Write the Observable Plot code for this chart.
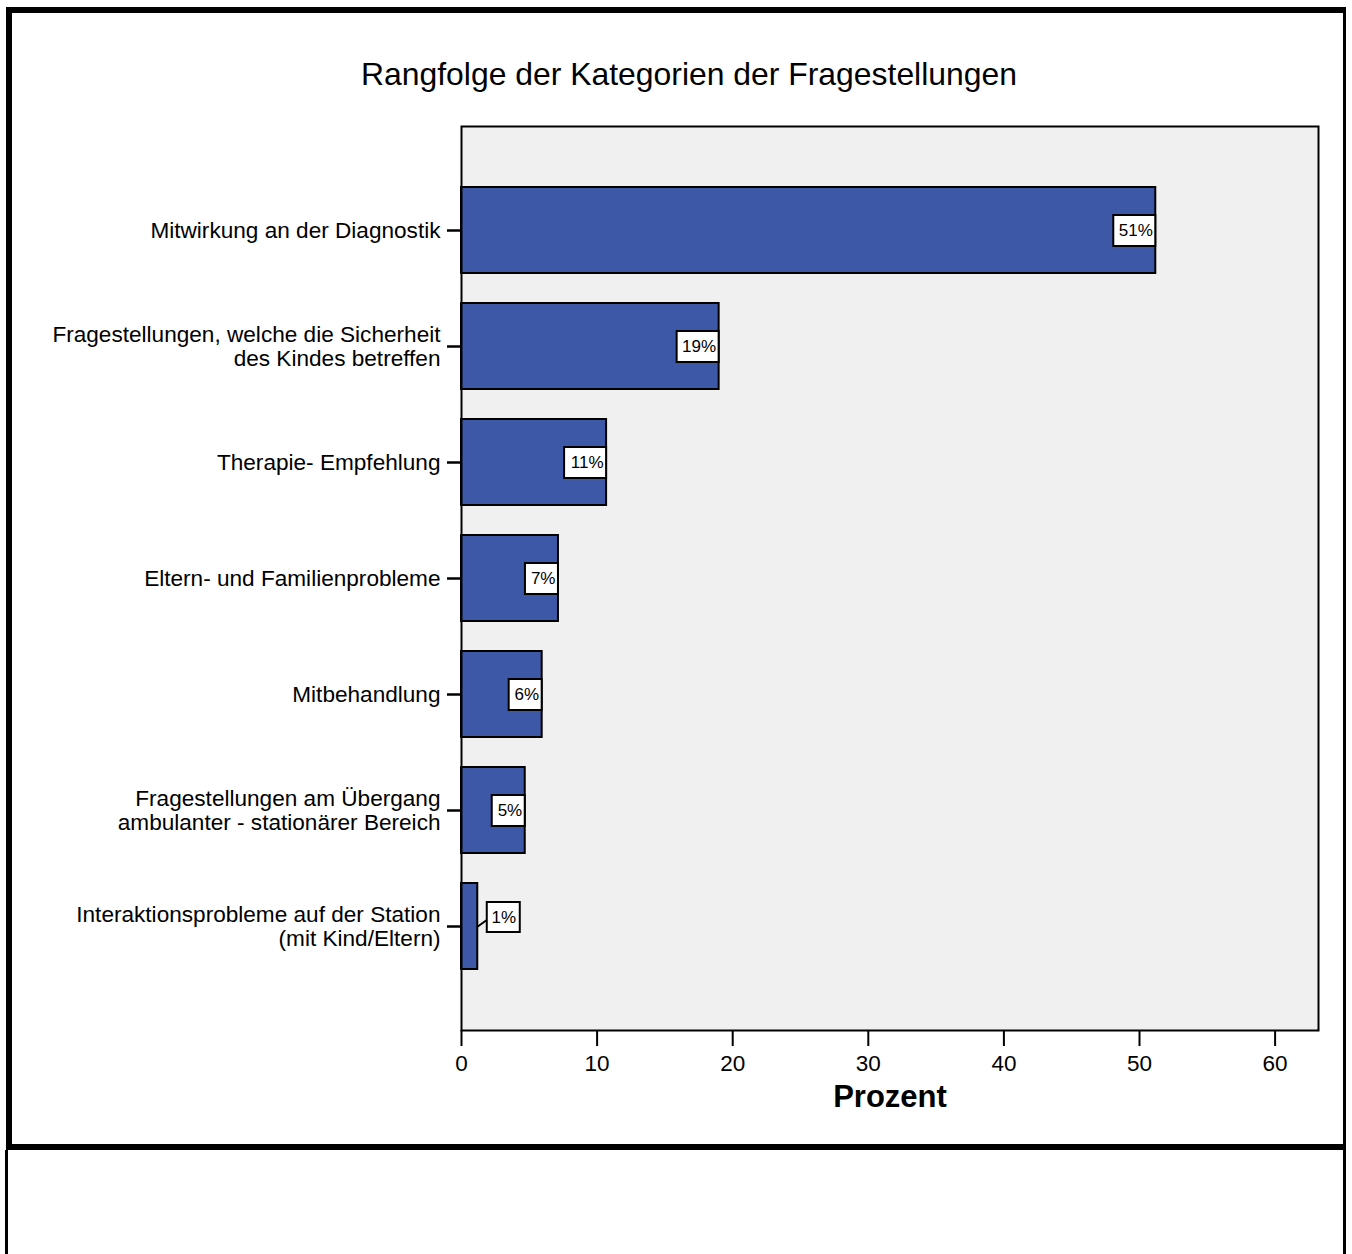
<!DOCTYPE html>
<html>
<head>
<meta charset="utf-8">
<script src="https://cdn.jsdelivr.net/npm/d3@7"></script>
<script src="https://cdn.jsdelivr.net/npm/@observablehq/plot@0.6"></script>
<style>
  html, body { margin: 0; padding: 0; background: #fff; }
  #page { position: relative; width: 1352px; height: 1254px; overflow: hidden; font-family: "Liberation Sans", Arial, sans-serif; }
  #chart { position: absolute; left: 0; top: 0; }
  .bd { position: absolute; background: #000; }
  #title { position: absolute; left: 0; width: 1378px; top: 54px; text-align: center; font-size: 31.9px; line-height: 40px; color: #000; }
</style>
</head>
<body>
<div id="page">
  <div id="chart"></div>
  <div id="title">Rangfolge der Kategorien der Fragestellungen</div>
  <div class="bd" style="left:6px;top:7px;width:1340px;height:6px"></div>
  <div class="bd" style="left:6px;top:7px;width:6px;height:1143px"></div>
  <div class="bd" style="left:1343px;top:7px;width:3px;height:1247px"></div>
  <div class="bd" style="left:6px;top:1144px;width:1340px;height:6px"></div>
  <div class="bd" style="left:5px;top:1150px;width:3px;height:104px"></div>
</div>
<script>
const categories = [
  "Mitwirkung an der Diagnostik",
  "Fragestellungen, welche die Sicherheit\ndes Kindes betreffen",
  "Therapie- Empfehlung",
  "Eltern- und Familienprobleme",
  "Mitbehandlung",
  "Fragestellungen am Übergang\nambulanter - stationärer Bereich",
  "Interaktionsprobleme auf der Station\n(mit Kind/Eltern)"
];
const values = [51.2, 19.0, 10.7, 7.15, 5.95, 4.7, 1.2];
const valueLabels = ["51%", "19%", "11%", "7%", "6%", "5%", "1%"];
const xTicks = [0, 10, 20, 30, 40, 50, 60];
const xMax = 63.2;

const W = 1352, H = 1150, mL = 461, mR = 34, mT = 126, mB = 120;
const k = (W - mL - mR) / xMax; // px per unit

const data = categories.map((c, i) => ({cat: c, value: values[i], label: valueLabels[i]}));
data.forEach(d => {
  d.boxW = d.label.length > 2 ? 42 : 33;
  d.outside = d.value * k < d.boxW;
});
const inside = data.filter(d => !d.outside);
const outside = data.filter(d => d.outside);
const gap = 9.5;

const leaderShape = {
  draw(context, l) { context.moveTo(0, 0); context.lineTo(0, -l); }
};

const chart = Plot.plot({
  width: W, height: H,
  marginLeft: mL, marginRight: mR, marginTop: mT, marginBottom: mB,
  style: {fontFamily: "'Liberation Sans', Arial, sans-serif", color: "black", background: "transparent"},
  x: {domain: [0, xMax]},
  y: {domain: categories, paddingInner: 0.26, paddingOuter: 0.52},
  marks: [
    Plot.frame({fill: "#f0f0f0", stroke: "none"}),
    Plot.barX(data, {x: "value", y: "cat", fill: "#3e58a8", stroke: "black", strokeWidth: 2}),
    Plot.barX(inside, {x1: d => d.value - d.boxW / k, x2: "value", y: "cat", insetTop: 28, insetBottom: 27, fill: "white", stroke: "black", strokeWidth: 2}),
    Plot.text(inside, {x: "value", y: "cat", text: "label", textAnchor: "end", dx: -3, dy: 0, fontSize: 17}),
    Plot.vector(outside, {x: "value", y: "cat", length: 12, rotate: 54, anchor: "start", shape: leaderShape, stroke: "black", strokeWidth: 2}),
    Plot.barX(outside, {x1: d => d.value + gap / k, x2: d => d.value + (gap + d.boxW) / k, y: "cat", insetTop: 19, insetBottom: 37, fill: "white", stroke: "black", strokeWidth: 2}),
    Plot.text(outside, {x: d => d.value + (gap + d.boxW / 2) / k, y: "cat", text: "label", dy: -8.5, fontSize: 17}),
    Plot.frame({stroke: "black", strokeWidth: 2}),
    Plot.axisX({ticks: xTicks, tickSize: 16, tickPadding: 9, fontSize: 22.5, strokeWidth: 2, label: null}),
    Plot.axisY({tickSize: 14, tickPadding: 7, fontSize: 22.6, lineHeight: 1.03, strokeWidth: 2.5, label: null}),
    Plot.text(["Prozent"], {frameAnchor: "bottom", dy: 76, fontSize: 31, fontWeight: "bold"})
  ]
});
document.getElementById("chart").appendChild(chart);
</script>
</body>
</html>
